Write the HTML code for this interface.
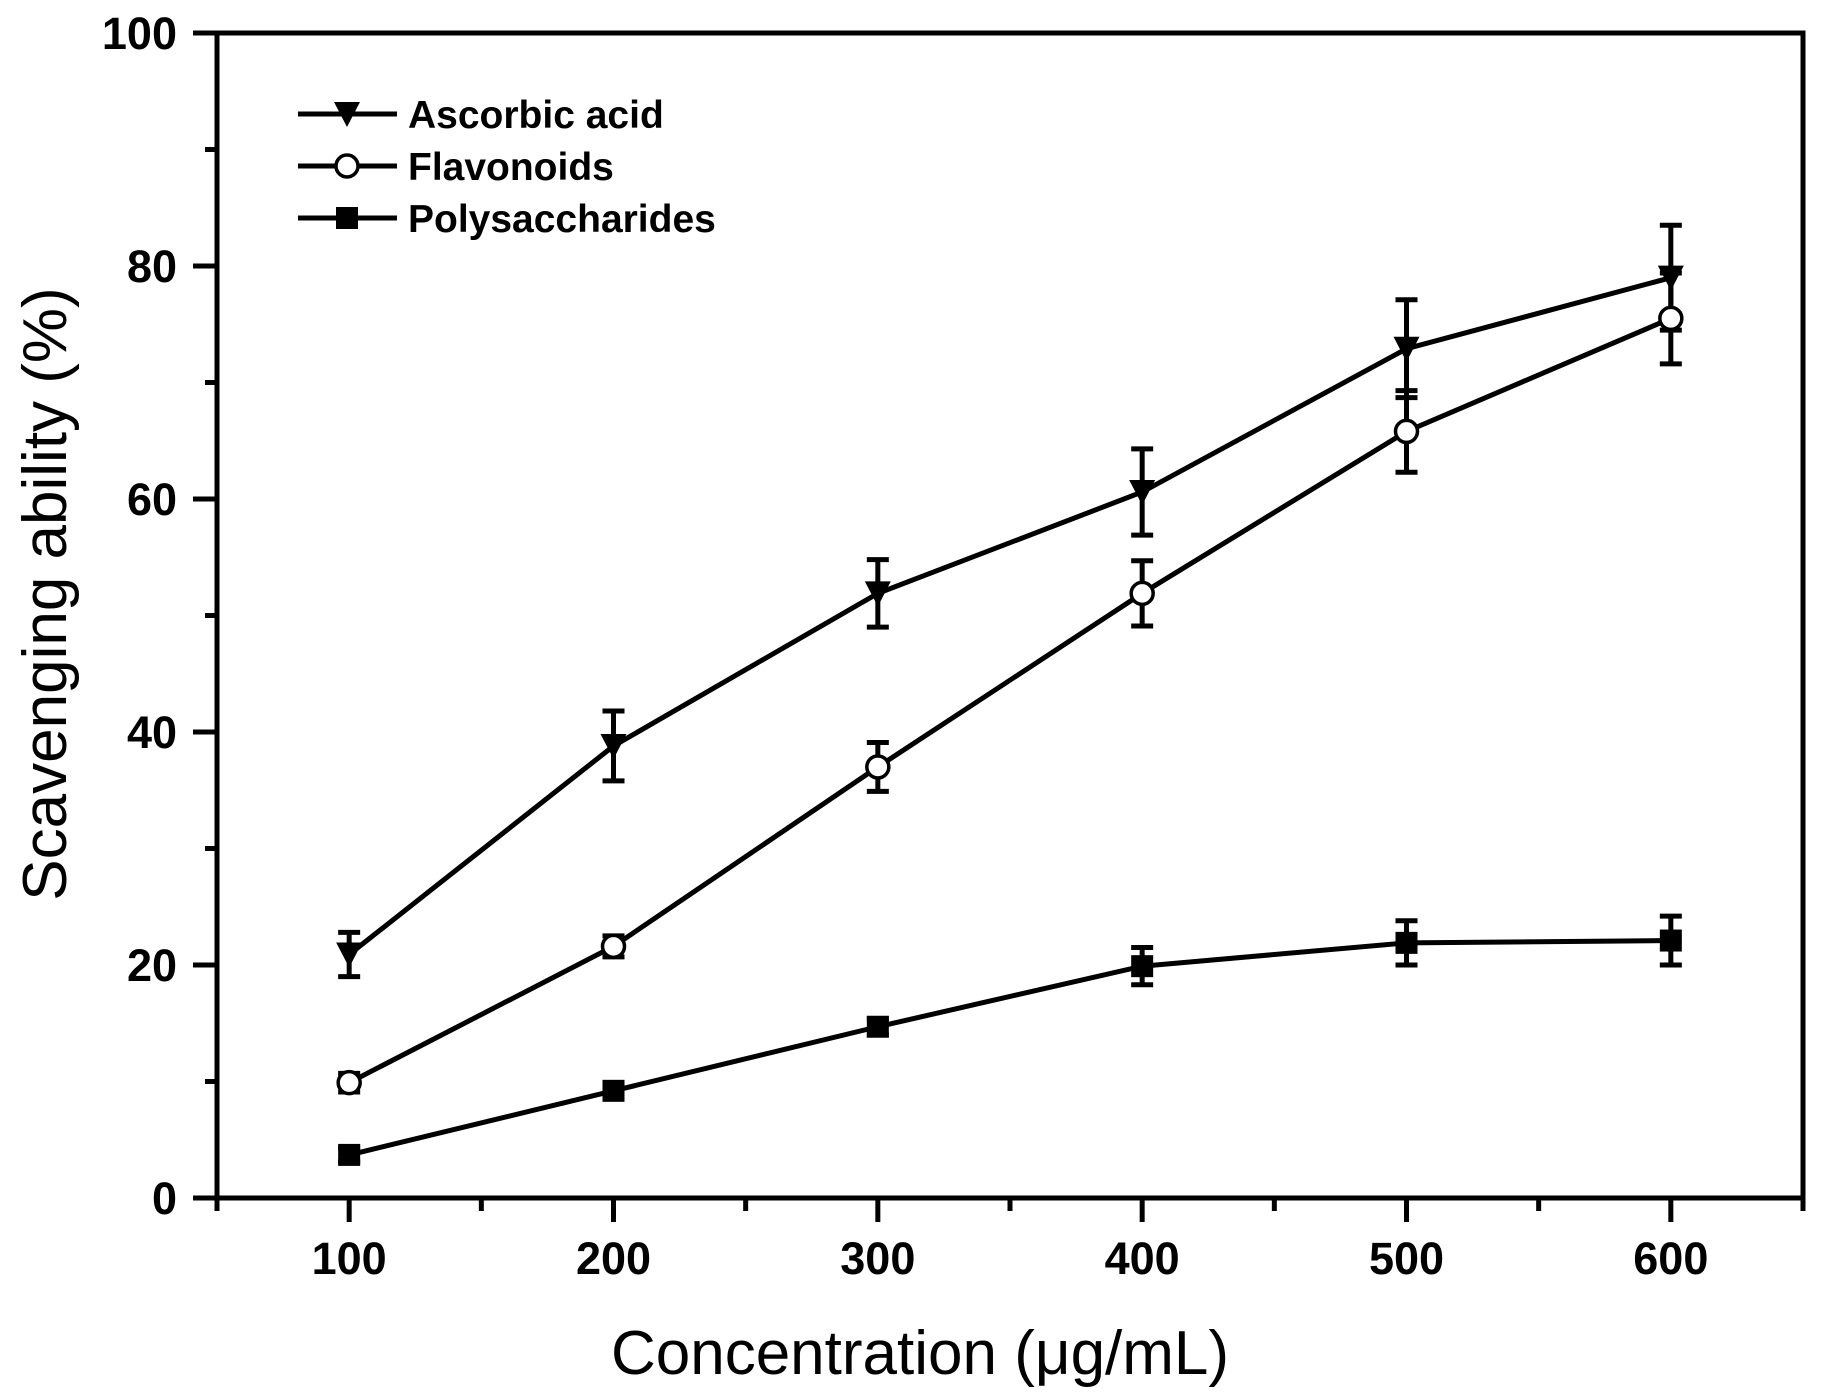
<!DOCTYPE html>
<html><head><meta charset="utf-8"><style>
html,body{margin:0;padding:0;background:#fff;}
svg{display:block;font-family:"Liberation Sans",Arial,sans-serif;}
</style></head><body>
<svg id="chart" width="1821" height="1394" viewBox="0 0 1821 1394" xmlns="http://www.w3.org/2000/svg">
<g id="axes"></g>
<g id="series"></g>
<g id="legend"></g>
<text transform="translate(66,594) rotate(-90)" text-anchor="middle" font-size="62">Scavenging ability (%)</text>
<text x="920" y="1374" text-anchor="middle" font-size="62">Concentration (μg/mL)</text>
</svg>
<script>
const categories=[100,200,300,400,500,600];
const xTicks=[100,200,300,400,500,600];
const yTicks=[0,20,40,60,80,100];
const seriesNames=["Ascorbic acid","Flavonoids","Polysaccharides"];
const ascorbic=[20.9,38.8,51.9,60.6,72.9,79.0];
const ascorbicErr=[1.9,3.0,2.9,3.7,4.2,4.5];
const flavonoids=[9.9,21.6,37.0,51.9,65.8,75.5];
const flavonoidsErr=[0.8,0.9,2.1,2.8,3.5,3.9];
const polys=[3.7,9.2,14.7,19.9,21.9,22.1];
const polysErr=[0.6,0.6,0.7,1.6,1.9,2.1];

const NS="http://www.w3.org/2000/svg";
const X0=217,X1=1803,Y0=1198,Y1=33;
const xs=v=>X0+(v-50)/(650-50)*(X1-X0);
const ys=v=>Y0-(v/100)*(Y0-Y1);
function mk(tag,attrs,parent){const e=document.createElementNS(NS,tag);for(const k in attrs)e.setAttribute(k,attrs[k]);parent.appendChild(e);return e;}
const axes=document.getElementById('axes');
let f=mk('rect',{x:X0,y:Y1,width:X1-X0,height:Y0-Y1,fill:'none',stroke:'#000','stroke-width':5},axes);


for(let v=0;v<=100;v+=10){
  const major=v%20===0;
  const t=mk('line',{x1:X0,x2:X0-(major?24:12),y1:ys(v),y2:ys(v),stroke:'#000','stroke-width':5},axes);
  
  
}
yTicks.forEach(v=>{
  const t=mk('text',{x:177,y:ys(v)+16,'text-anchor':'end','font-size':45,'font-weight':'bold'},axes);
  t.textContent=v;
  
  
});
for(let v=50;v<=650;v+=50){
  const major=v%100===0;
  const t=mk('line',{x1:xs(v),x2:xs(v),y1:Y0,y2:Y0+(major?24:13),stroke:'#000','stroke-width':5},axes);
  
  
}
xTicks.forEach(v=>{
  const t=mk('text',{x:xs(v),y:1274,'text-anchor':'middle','font-size':45,'font-weight':'bold'},axes);
  t.textContent=v;
  
  
});
const sg=document.getElementById('series');
function marker(type,cx,cy,parent){
  let m;
  if(type==='tri') m=mk('path',{d:`M${cx-13},${cy-12} L${cx+13},${cy-12} L${cx},${cy+13} Z`,fill:'#000'},parent);
  else if(type==='circ') m=mk('circle',{cx:cx,cy:cy,r:11,fill:'#fff',stroke:'#000','stroke-width':3.5},parent);
  else m=mk('rect',{x:cx-11,y:cy-11,width:22,height:22,fill:'#000'},parent);
  return m;
}
function drawSeries(vals,errs,type,name){
  const g=mk('g',{},sg);
  
  
  const p=mk('polyline',{points:categories.map((c,i)=>xs(c)+','+ys(vals[i])).join(' '),fill:'none',stroke:'#000','stroke-width':5},g);
  
  
  categories.forEach((c,i)=>{
    const x=xs(c),yt=ys(vals[i]+errs[i]),yb=ys(vals[i]-errs[i]);
    const e=mk('path',{d:`M${x},${yt} L${x},${yb} M${x-11},${yt} L${x+11},${yt} M${x-11},${yb} L${x+11},${yb}`,stroke:'#000','stroke-width':5,fill:'none'},g);
    
    
  });
  categories.forEach((c,i)=>{
    const m=marker(type,xs(c),ys(vals[i]),g);
    
    
  });
}
drawSeries(ascorbic,ascorbicErr,'tri','ascorbic-acid');
drawSeries(flavonoids,flavonoidsErr,'circ','flavonoids');
drawSeries(polys,polysErr,'sq','polysaccharides');
const lg=document.getElementById('legend');
['tri','circ','sq'].forEach((t,i)=>{
  const y=114+i*52;
  const e=mk('g',{},lg);
  
  
  mk('line',{x1:298,x2:397,y1:y,y2:y,stroke:'#000','stroke-width':5},e);
  marker(t,347,y,e);
  const tx=mk('text',{x:408,y:y+14,'font-size':39,'font-weight':'bold'},e);
  tx.textContent=seriesNames[i];
});
</script>
</body></html>
